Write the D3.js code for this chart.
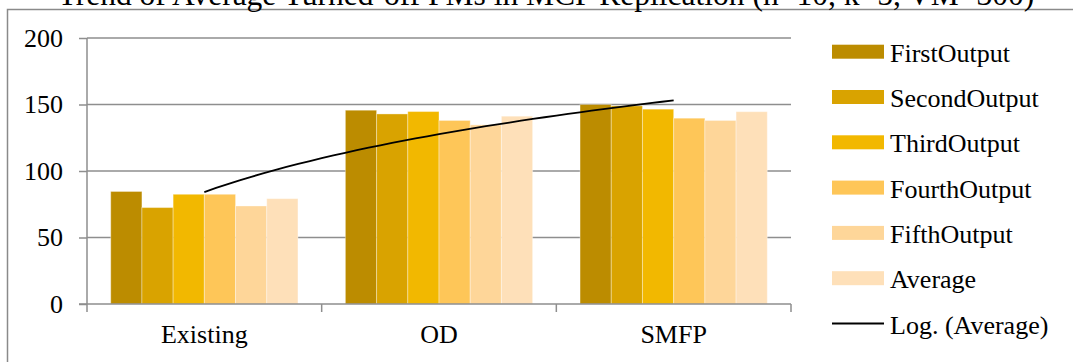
<!DOCTYPE html>
<html>
<head>
<meta charset="utf-8">
<script src="https://cdn.jsdelivr.net/npm/d3@7"></script>
<style>
  html, body { margin: 0; padding: 0; background: #fff; }
  svg { display: block; }
  text { font-family: "Liberation Serif", "Times New Roman", serif; fill: #000; }
</style>
</head>
<body>
<svg id="chart" width="1073" height="362"></svg>
<script>
// Chart data
const title = "Trend of Average Turned-off PMs in MCP Replication (n=10, k=5, VM=300)";
const categories = ["Existing", "OD", "SMFP"];
const seriesNames = ["FirstOutput", "SecondOutput", "ThirdOutput", "FourthOutput", "FifthOutput", "Average"];
const firstOutput  = [84.6, 145.7, 150.0];
const secondOutput = [72.5, 142.9, 149.0];
const thirdOutput  = [82.5, 144.7, 146.5];
const fourthOutput = [82.5, 138.0, 139.7];
const fifthOutput  = [73.7, 134.7, 138.0];
const average      = [79.2, 141.2, 144.6];
const yTicks = [0, 50, 100, 150, 200];
const trendLabel = "Log. (Average)";

const seriesValues = [firstOutput, secondOutput, thirdOutput, fourthOutput, fifthOutput, average];
const colors = ["#BC8C00", "#D9A300", "#F2B800", "#FEC658", "#FED699", "#FEE0B9"];

const svg = d3.select("#chart");

// outer chart frame
svg.append("rect")
  .attr("x", 7.5).attr("y", 9.5)
  .attr("width", 1200).attr("height", 500)
  .attr("fill", "none").attr("stroke", "#8a8a8a").attr("stroke-width", 1.5);

// title (partly above the frame)
svg.append("text")
  .attr("x", 546).attr("y", 5)
  .attr("text-anchor", "middle")
  .attr("font-size", 31.5)
  .text(title);

const plot = { left: 87, right: 791, top: 38, bottom: 304 };

const y = d3.scaleLinear().domain([0, 200]).range([plot.bottom, plot.top]);
const x0 = d3.scaleBand().domain(categories).range([plot.left, plot.right]).padding(0);
const x1 = d3.scaleBand().domain(seriesNames).range([0, x0.bandwidth()])
  .paddingInner(0).paddingOuter(0.76);

// horizontal gridlines
svg.append("g").selectAll("line")
  .data(yTicks.filter(d => d > 0))
  .join("line")
  .attr("x1", plot.left).attr("x2", plot.right)
  .attr("y1", d => y(d)).attr("y2", d => y(d))
  .attr("stroke", "#8e8e8e").attr("stroke-width", 1.5);

// bars
const groups = svg.append("g").selectAll("g")
  .data(categories)
  .join("g")
  .attr("transform", d => `translate(${x0(d)},0)`);

groups.selectAll("rect")
  .data((c, ci) => seriesNames.map((s, si) => ({ s, si, v: seriesValues[si][ci] })))
  .join("rect")
  .attr("x", d => x1(d.s))
  .attr("width", x1.bandwidth())
  .attr("y", d => y(d.v))
  .attr("height", d => y(0) - y(d.v))
  .attr("fill", d => colors[d.si])
  .attr("stroke", "#ffffff").attr("stroke-opacity", 0.35).attr("stroke-width", 1);

// y axis
const yAxis = d3.axisLeft(y).tickValues(yTicks).tickSize(8).tickPadding(16).tickFormat(d3.format("d"));
const gy = svg.append("g").attr("transform", `translate(${plot.left},0)`).call(yAxis);
gy.attr("font-family", null);
gy.select(".domain").attr("stroke", "#8e8e8e").attr("stroke-width", 1.5).attr("d", `M0,${plot.top}V${plot.bottom}`);
gy.selectAll(".tick line").attr("stroke", "#8e8e8e").attr("stroke-width", 1.5);
gy.selectAll(".tick text").attr("font-size", 26).attr("fill", "#000");

// x axis with ticks at category boundaries
const gx = svg.append("g").attr("transform", `translate(0,${plot.bottom})`);
gx.append("line").attr("x1", plot.left - 8).attr("x2", plot.right)
  .attr("stroke", "#8e8e8e").attr("stroke-width", 1.5);
const bounds = categories.map(c => x0(c)).concat([x0(categories[categories.length - 1]) + x0.bandwidth()]);
gx.selectAll("line.b").data(bounds).join("line").attr("class", "b")
  .attr("x1", d => d).attr("x2", d => d).attr("y1", 0).attr("y2", 8)
  .attr("stroke", "#8e8e8e").attr("stroke-width", 1.5);
gx.selectAll("text").data(categories).join("text")
  .attr("x", d => x0(d) + x0.bandwidth() / 2)
  .attr("y", 39)
  .attr("text-anchor", "middle")
  .attr("font-size", 26)
  .text(d => d);

// logarithmic trend line fitted to the Average series: y = a*ln(x) + b
const lx = average.map((v, i) => Math.log(i + 1));
const mx = d3.mean(lx), my = d3.mean(average);
const a = d3.sum(lx, (v, i) => (v - mx) * (average[i] - my)) / d3.sum(lx, v => (v - mx) * (v - mx));
const b = my - a * mx;
const c0 = x0(categories[0]) + x0.bandwidth() / 2;
const step = x0.step();
const ts = d3.range(1, categories.length + 0.0001, 0.05);
const trend = d3.line()
  .x(t => c0 + (t - 1) * step)
  .y(t => y(a * Math.log(t) + b))
  .curve(d3.curveLinear);
svg.append("path").datum(ts)
  .attr("d", trend).attr("fill", "none")
  .attr("stroke", "#000").attr("stroke-width", 1.8);

// legend
const legend = svg.append("g");
const legendItems = seriesNames.concat([trendLabel]);
const ly0 = 51.7, lstep = 45.3;
legendItems.forEach((name, i) => {
  const cy = ly0 + i * lstep;
  if (i < seriesNames.length) {
    legend.append("rect").attr("x", 832).attr("y", cy - 7).attr("width", 52).attr("height", 14)
      .attr("fill", colors[i]);
  } else {
    legend.append("line").attr("x1", 832).attr("x2", 884).attr("y1", cy).attr("y2", cy)
      .attr("stroke", "#000").attr("stroke-width", 1.8);
  }
  legend.append("text").attr("x", 890).attr("y", cy + 10)
    .attr("font-size", 26).text(name);
});
</script>
</body>
</html>
